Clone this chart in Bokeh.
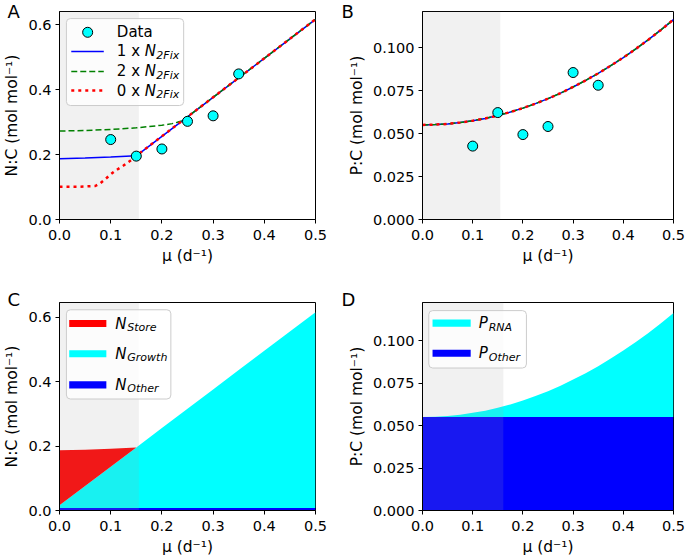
from bokeh.plotting import figure
from bokeh.layouts import column, row
from bokeh.models import Range1d, FixedTicker, NumeralTickFormatter
from bokeh.core.properties import value
from bokeh.embed import file_html
from bokeh.resources import INLINE

# ---------------- data ----------------
mu_data = [0.10, 0.15, 0.20, 0.25, 0.30, 0.35]
nc_data = [0.246, 0.195, 0.217, 0.302, 0.319, 0.448]
pc_data = [0.0427, 0.0622, 0.0494, 0.0541, 0.0855, 0.0781]

mu_fit = [0.00, 0.05, 0.10, 0.15, 0.20, 0.25, 0.30, 0.35, 0.40, 0.45, 0.50]
nc_1x = [0.187, 0.189, 0.192, 0.196, 0.256, 0.316, 0.376, 0.436, 0.496, 0.556, 0.616]
n_growth = [0.016, 0.076, 0.136, 0.196, 0.256, 0.316, 0.376, 0.436, 0.496, 0.556, 0.616]
n_other = [0.008] * 11

mu_2x = [0.00, 0.05, 0.10, 0.15, 0.20, 0.22, 0.23, 0.24, 0.25, 0.30, 0.35, 0.40, 0.45, 0.50]
nc_2x = [0.272, 0.274, 0.277, 0.282, 0.290, 0.295, 0.299, 0.304, 0.316, 0.376, 0.436, 0.496, 0.556, 0.616]

mu_0x = [0.00, 0.04, 0.07, 0.08, 0.09, 0.10, 0.11, 0.125, 0.14, 0.15, 0.20, 0.25, 0.30, 0.35, 0.40, 0.45, 0.50]
nc_0x = [0.101, 0.101, 0.103, 0.112, 0.125, 0.139, 0.151, 0.166, 0.183, 0.196, 0.256, 0.316, 0.376, 0.436, 0.496, 0.556, 0.616]

mu_p = [0.000, 0.025, 0.050, 0.075, 0.100, 0.125, 0.150, 0.175, 0.200, 0.225, 0.250,
        0.275, 0.300, 0.325, 0.350, 0.375, 0.400, 0.425, 0.450, 0.475, 0.500]
pc_fit = [0.0550, 0.0552, 0.0556, 0.0564, 0.0575, 0.0588, 0.0605, 0.0625, 0.0648, 0.0674, 0.0703,
          0.0735, 0.0771, 0.0809, 0.0850, 0.0895, 0.0942, 0.0993, 0.1046, 0.1103, 0.1163]
p_other = [0.055] * 21

shade_end = {"A": 0.155, "B": 0.155, "C": 0.155, "D": 0.161}

x_ticks = [0.0, 0.1, 0.2, 0.3, 0.4, 0.5]
nc_ticks = [0.0, 0.2, 0.4, 0.6]
pc_ticks = [0.0, 0.025, 0.05, 0.075, 0.1]

XLABEL = "μ (d⁻¹)"
FONT = "DejaVu Sans"


def make_fig(letter, title_standoff, width, height, ymax, yticks, yfmt, ylabel, mbl, mbr, mbt, mbb):
    p = figure(width=width, height=height, x_range=Range1d(0, 0.5), y_range=Range1d(0, ymax),
               output_backend="svg", toolbar_location=None,
               min_border_left=mbl, min_border_right=mbr, min_border_top=mbt, min_border_bottom=mbb)
    # panel letter as a left-shifted title
    p.title.text = letter
    p.title.align = "left"
    p.title.offset = 1 - mbl
    p.title.vertical_align = "bottom"
    p.title.standoff = title_standoff
    p.title.text_font = FONT
    p.title.text_font_size = "18px"
    p.title.text_font_style = "normal"
    p.title.text_color = "black"
    p.xgrid.visible = False
    p.ygrid.visible = False
    p.outline_line_color = "black"
    p.outline_line_alpha = 1.0
    p.outline_line_width = 1
    p.xaxis.ticker = FixedTicker(ticks=x_ticks)
    p.xaxis.formatter = NumeralTickFormatter(format="0.0")
    p.yaxis.ticker = FixedTicker(ticks=yticks)
    p.yaxis.formatter = NumeralTickFormatter(format=yfmt)
    p.xaxis.axis_label = XLABEL
    p.yaxis.axis_label = ylabel
    for ax in (p.xaxis[0], p.yaxis[0]):
        ax.axis_line_color = "black"
        ax.major_tick_line_color = "black"
        ax.minor_tick_line_color = None
        ax.major_tick_in = 0
        ax.major_tick_out = 4
        ax.major_label_text_font = FONT
        ax.major_label_text_font_size = "14.5px"
        ax.major_label_text_color = "black"
        ax.axis_label_text_font = FONT
        ax.axis_label_text_font_size = "15.5px"
        ax.axis_label_text_font_style = "normal"
        ax.axis_label_text_color = "black"
        ax.axis_label_standoff = 4
    p.xaxis[0].major_label_standoff = 6
    p.yaxis[0].major_label_standoff = 4
    return p


def shade(p, key, alpha):
    p.quad(left=[0], right=[shade_end[key]], bottom=[0], top=[p.y_range.end],
           fill_color="#a0a0a0", fill_alpha=alpha, line_color=None)


def legend_box(p, l, r, b, t):
    ym = p.y_range.end
    p.quad(left=[l * 0.5], right=[r * 0.5], bottom=[b * ym], top=[t * ym],
           fill_color="white", fill_alpha=0.8, line_color="#cccccc", line_width=1,
           border_radius=4)


def ltext(p, fx, fy, txt, style="normal", size="15px", xo=0, yo=0):
    p.text(x=[fx * 0.5], y=[fy * p.y_range.end], text=[txt], text_font=value(FONT),
           text_font_size=size, text_font_style=style, text_baseline="middle",
           text_align="left", x_offset=xo, y_offset=yo, text_color="black")


# ---------------- Panel A ----------------
pA = make_fig("A", -21, 340, 280, 0.64, nc_ticks, "0.0", "N:C (mol mol⁻¹)", 53, 25, 11, 61)
shade(pA, "A", 0.15)
pA.line(mu_fit, nc_1x, line_color="blue", line_width=1.5)
pA.line(mu_2x, nc_2x, line_color="green", line_width=1.5, line_dash="6 3")
pA.line(mu_0x, nc_0x, line_color="red", line_width=2.5, line_dash="3 4")
pA.scatter(mu_data, nc_data, size=10, fill_color="cyan", line_color="black", line_width=1)
legend_box(pA, 0.027, 0.485, 0.548, 0.966)
pA.scatter([0.110 * 0.5], [0.90 * 0.64], size=10, fill_color="cyan", line_color="black", line_width=1)
ltext(pA, 0.224, 0.90, "Data")
leg_rows = [(0.808, "1 x ", "blue", 1.5, "solid"),
            (0.712, "2 x ", "green", 1.5, "6 3"),
            (0.620, "0 x ", "red", 2.5, "3 4")]
for fy, lab, col, lw, dash in leg_rows:
    pA.line([0.046 * 0.5, 0.173 * 0.5], [fy * 0.64, fy * 0.64], line_color=col, line_width=lw, line_dash=dash)
    ltext(pA, 0.224, fy, lab)
    ltext(pA, 0.224, fy, "N", style="italic", xo=28)
    ltext(pA, 0.224, fy, "2Fix", style="italic", size="11px", xo=39.5, yo=4)

# ---------------- Panel B ----------------
pB = make_fig("B", -21, 345, 280, 0.121, pc_ticks, "0.000", "P:C (mol mol⁻¹)", 82, 12, 11, 61)
shade(pB, "B", 0.15)
pB.line(mu_p, pc_fit, line_color="blue", line_width=1.5)
pB.line(mu_p, pc_fit, line_color="green", line_width=1.5, line_dash="6 3")
pB.line(mu_p, pc_fit, line_color="red", line_width=2.5, line_dash="3 4")
pB.scatter(mu_data, pc_data, size=10, fill_color="cyan", line_color="black", line_width=1)

# ---------------- Panel C ----------------
pC = make_fig("C", -14, 340, 279, 0.646, nc_ticks, "0.0", "N:C (mol mol⁻¹)", 53, 25, 22, 49)
pC.varea(x=mu_fit, y1=[0] * 11, y2=n_other, fill_color="blue")
pC.varea(x=mu_fit, y1=n_other, y2=n_growth, fill_color="cyan")
pC.varea(x=mu_fit[:4], y1=n_growth[:4], y2=nc_1x[:4], fill_color="red")
shade(pC, "C", 0.15)
legend_box(pC, 0.027, 0.435, 0.536, 0.965)
c_rows = [(0.899, "Store", "red"), (0.754, "Growth", "cyan"), (0.604, "Other", "blue")]
for fy, sub, col in c_rows:
    pC.quad(left=[0.038 * 0.5], right=[0.183 * 0.5], bottom=[(fy - 0.017) * 0.646],
            top=[(fy + 0.017) * 0.646], fill_color=col, line_color=None)
    ltext(pC, 0.218, fy, "N", style="italic")
    ltext(pC, 0.218, fy, sub, style="italic", size="11px", xo=12, yo=4)

# ---------------- Panel D ----------------
pD = make_fig("D", -14, 345, 279, 0.1225, pc_ticks, "0.000", "P:C (mol mol⁻¹)", 82, 12, 22, 49)
pD.varea(x=mu_p, y1=[0] * 21, y2=p_other, fill_color="blue")
pD.varea(x=mu_p, y1=p_other, y2=pc_fit, fill_color="cyan")
shade(pD, "D", 0.15)
legend_box(pD, 0.025, 0.414, 0.685, 0.961)
d_rows = [(0.901, "RNA", "cyan"), (0.756, "Other", "blue")]
for fy, sub, col in d_rows:
    pD.quad(left=[0.040 * 0.5], right=[0.192 * 0.5], bottom=[(fy - 0.017) * 0.1225],
            top=[(fy + 0.017) * 0.1225], fill_color=col, line_color=None)
    ltext(pD, 0.224, fy, "P", style="italic")
    ltext(pD, 0.224, fy, sub, style="italic", size="11px", xo=10, yo=4)

layout = column(row(pA, pB), row(pC, pD))
open("out.html", "w").write(file_html(layout, INLINE))
